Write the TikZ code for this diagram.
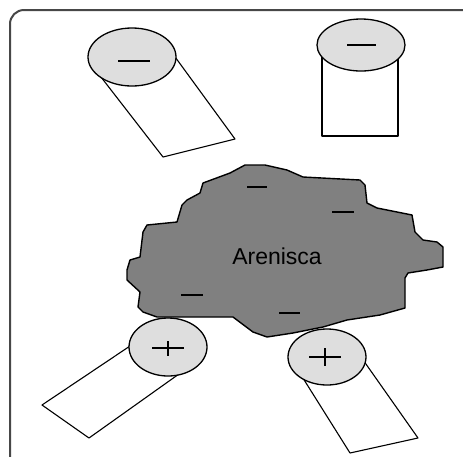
\documentclass[tikz,border=0pt]{standalone}
\usepackage{fontspec}
\setmainfont{Liberation Sans}
\usetikzlibrary{positioning}

\begin{document}
\begin{tikzpicture}[x=1pt, y=-1pt,
    barra/.style={draw=black, line width=1.1pt, fill=white, line join=round},
    electrodo/.style={draw=black, line width=1.3pt, fill=black!13},
    signo/.style={draw=black, line width=1.3pt}]
    \useasboundingbox (0,0) rectangle (463,456);

    % Frame
    \draw[black!72, line width=2pt, rounded corners=14pt] (10,458) -- (10,10) -- (466,10);

    % Negative electrodes (top)
    \draw[barra] (94,68) -- (163,157) -- (235,139) -- (170,50) -- cycle;
    \draw[electrodo] (132,57) ellipse [x radius=44, y radius=29];
    \draw[signo] (118,61) -- (150,61);

    \draw[barra] (322,50) -- (322,136) -- (398,136) -- (398,50) -- cycle;
    \draw[electrodo] (361,45) ellipse [x radius=44, y radius=26];
    \draw[signo] (347,45) -- (376,45);

    % Positive electrodes (bottom)
    \draw[barra] (136,342) -- (42,405) -- (89,438) -- (186,369) -- cycle;
    \draw[electrodo] (168,347) ellipse [x radius=39, y radius=29];
    \draw[signo] (152,348) -- (184,348) (168,341) -- (168,356);

    \draw[barra] (296,367) -- (350,453) -- (418,438) -- (361,357) -- cycle;
    \draw[electrodo] (327,357) ellipse [x radius=39, y radius=28];
    \draw[signo] (309,357) -- (341,357) (325,348) -- (325,366);

    % Sandstone grain
    \draw[fill=black!50, line width=1.4pt, line join=round]
        (245,165) -- (230,173) -- (203,183) -- (200,193) -- (187,200) -- (182,205)
        -- (177,222) -- (147,225) -- (143,232) -- (140,257) -- (130,260)
        -- (127,270) -- (127,280) -- (140,292) -- (138,307) -- (143,312)
        -- (157,317) -- (190,317) -- (233,317) -- (253,332) -- (267,337)
        -- (293,333) -- (323,327) -- (347,320) -- (380,315) -- (405,308)
        -- (405,278) -- (408,273) -- (427,270) -- (443,267) -- (443,247)
        -- (437,242) -- (423,240) -- (415,232) -- (412,215) -- (377,208)
        -- (367,203) -- (365,185) -- (360,180) -- (303,177) -- (287,170)
        -- (265,165) -- cycle;
    \draw[signo] (247,187) -- (267,187);
    \draw[signo] (332,212) -- (354,212);
    \draw[signo] (181,295) -- (203,295);
    \draw[signo] (279,313) -- (300,313);

    \node[text=black, font=\fontsize{23}{23}\selectfont] (arenisca) at (277,256) {Arenisca};
\end{tikzpicture}
\end{document}
